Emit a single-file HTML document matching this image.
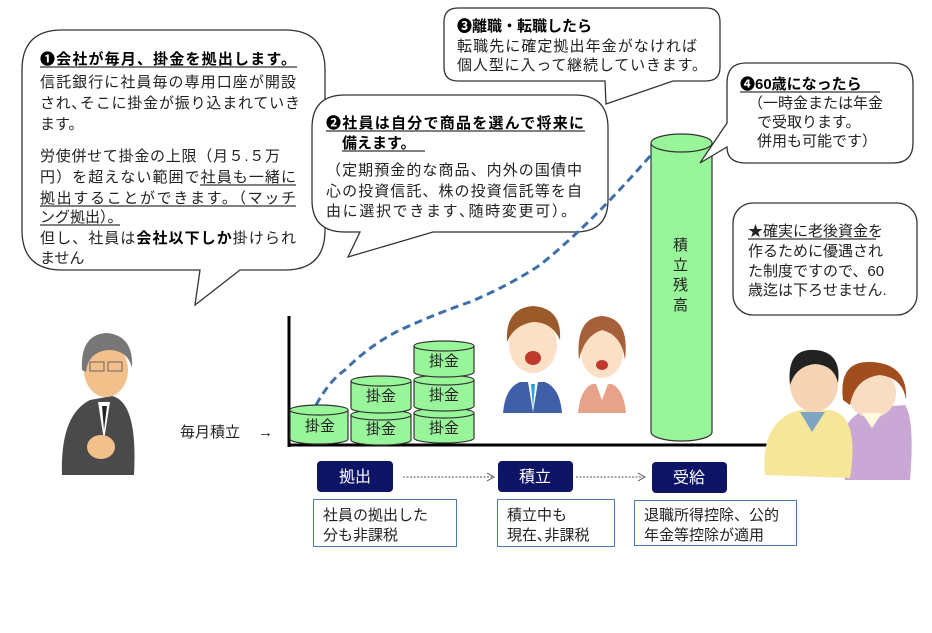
<!DOCTYPE html>
<html><head><meta charset="utf-8">
<style>
html,body{margin:0;padding:0;background:#fff;}
svg{display:block;}
text{font-family:"Liberation Sans","Noto Sans CJK JP",sans-serif;font-size:15px;fill:#222;}
.b{font-weight:bold;fill:#000;}
</style></head><body>
<svg width="932" height="633" viewBox="0 0 932 633" xmlns="http://www.w3.org/2000/svg">
<!-- Bubble 1 -->
<path d="M62,30 H285 Q325,30 325,70 V230 Q325,270 285,270 H240 L195,305 L200,270 H62 Q22,270 22,230 V70 Q22,30 62,30 Z" fill="#fff" stroke="#333" stroke-width="1.3"/>
<text x="40" y="64" class="b" textLength="256">❶会社が毎月、掛金を拠出します。</text>
<line x1="40" y1="67" x2="297" y2="67" stroke="#000"/>
<text x="40" y="87" textLength="256">信託銀行に社員毎の専用口座が開設</text>
<text x="40" y="108" textLength="260">され､そこに掛金が振り込まれていき</text>
<text x="40" y="129">ます。</text>
<text x="40" y="161" textLength="240">労使併せて掛金の上限（月５.５万</text>
<text x="40" y="182" textLength="256">円）を超えない範囲で社員も一緒に</text>
<line x1="200" y1="185" x2="296" y2="185" stroke="#000"/>
<text x="40" y="203" textLength="256">拠出することができます。（マッチ</text>
<line x1="40" y1="206" x2="296" y2="206" stroke="#000"/>
<text x="40" y="222">ング拠出）。</text>
<line x1="40" y1="225" x2="120" y2="225" stroke="#000"/>
<text x="40" y="243" textLength="256">但し、社員は<tspan class="b">会社以下しか</tspan>掛けられ</text>
<text x="40" y="263">ません</text>

<!-- Bubble 2 -->
<path d="M345,95 H575 Q608,95 608,128 V200 Q608,232 575,232 H433 L348,257 L360,232 H345 Q312,232 312,200 V128 Q312,95 345,95 Z" fill="#fff" stroke="#333" stroke-width="1.3"/>
<text x="326" y="128" class="b" textLength="258">❷社員は自分で商品を選んで将来に</text>
<line x1="326" y1="131" x2="585" y2="131" stroke="#000"/>
<text x="342" y="148" class="b">備えます。</text>
<line x1="342" y1="151" x2="425" y2="151" stroke="#000"/>
<text x="326" y="175" textLength="256">（定期預金的な商品、内外の国債中</text>
<text x="326" y="196" textLength="256">心の投資信託、株の投資信託等を自</text>
<text x="326" y="216" textLength="250">由に選択できます､随時変更可）。</text>

<!-- Bubble 3 -->
<path d="M458,8 H706 Q720,8 720,22 V67 Q720,81 706,81 H673 L606,104 L605,81 H458 Q444,81 444,67 V22 Q444,8 458,8 Z" fill="#fff" stroke="#333" stroke-width="1.3"/>
<text x="457" y="31" class="b">❸離職・転職したら</text>
<text x="457" y="51" textLength="240">転職先に確定拠出年金がなければ</text>
<text x="457" y="70" textLength="250">個人型に入って継続していきます。</text>

<!-- Box 5 -->
<rect x="733" y="203" width="184" height="112" rx="20" fill="#fff" stroke="#333" stroke-width="1.3"/>
<text x="748" y="236">★確実に老後資金を</text>
<line x1="748" y1="239" x2="876" y2="239" stroke="#000"/>
<text x="748" y="256">作るために優遇され</text>
<text x="748" y="276">た制度ですので、60</text>
<text x="748" y="295">歳迄は下ろせません.</text>

<!-- dashed growth line -->
<path d="M316,405 Q330,380 345,370 Q370,345 400,330 Q440,312 470,302 Q510,285 540,265 Q590,225 651,155" fill="none" stroke="#3f6fa8" stroke-width="3" stroke-dasharray="8,5"/>

<!-- axes -->
<line x1="289" y1="316" x2="289" y2="447" stroke="#000" stroke-width="3"/>
<line x1="289" y1="445" x2="820" y2="445" stroke="#000" stroke-width="3"/>
<text x="180" y="437">毎月積立</text>
<text x="258" y="437">→</text>

<!-- cylinders -->
<g fill="#99f59a" stroke="#333" stroke-width="1.2">
<path d="M290,410 V439 A29,5 0 0 0 348,439 V410"/><ellipse cx="319" cy="410" rx="29" ry="5"/>
<path d="M351,415 V440 A30,5 0 0 0 411,440 V415"/><ellipse cx="381" cy="415" rx="30" ry="5"/>
<path d="M351,381 V408 A30,5 0 0 0 411,408 V381"/><ellipse cx="381" cy="381" rx="30" ry="5"/>
<path d="M414,413 V438 A30,5 0 0 0 474,438 V413"/><ellipse cx="444" cy="413" rx="30" ry="5"/>
<path d="M414,380 V406 A30,5 0 0 0 474,406 V380"/><ellipse cx="444" cy="380" rx="30" ry="5"/>
<path d="M414,346 V372 A30,5 0 0 0 474,372 V346"/><ellipse cx="444" cy="346" rx="30" ry="5"/>
<path d="M651,143 V432 A30.5,9 0 0 0 712,432 V143"/><ellipse cx="681.5" cy="143" rx="30.5" ry="9"/>
</g>
<g>
<text x="305" y="431">掛金</text>
<text x="366" y="434">掛金</text>
<text x="366" y="401">掛金</text>
<text x="429" y="433">掛金</text>
<text x="429" y="400">掛金</text>
<text x="429" y="366">掛金</text>
<text x="673" y="250">積</text>
<text x="673" y="270">立</text>
<text x="673" y="290">残</text>
<text x="673" y="310">高</text>
</g>

<!-- Bubble 4 (drawn over cylinder) -->
<path d="M746,63 H893 Q913,63 913,83 V143 Q913,163 893,163 H746 Q727,163 727,147 L700,163 L727,123 V83 Q727,63 746,63 Z" fill="#fff" stroke="#333" stroke-width="1.3"/>
<text x="740" y="89" class="b">❹60歳になったら</text>
<line x1="740" y1="92" x2="880" y2="92" stroke="#000"/>
<text x="748" y="108">（一時金または年金</text>
<text x="757" y="127">で受取ります。</text>
<text x="757" y="146">併用も可能です）</text>

<!-- stage labels -->
<rect x="317" y="461" width="76" height="31" rx="4" fill="#0d1466"/>
<rect x="498" y="461" width="75" height="31" rx="4" fill="#0d1466"/>
<rect x="652" y="462" width="75" height="31" rx="4" fill="#0d1466"/>
<text x="339" y="482" style="fill:#fff;font-size:16px">拠出</text>
<text x="519" y="482" style="fill:#fff;font-size:16px">積立</text>
<text x="673" y="483" style="fill:#fff;font-size:16px">受給</text>
<g stroke="#555" stroke-dasharray="2,1.5" fill="none">
<line x1="403" y1="477" x2="492" y2="477"/>
<line x1="576" y1="477" x2="643" y2="477"/>
</g>
<path d="M487,473 L494,477 L487,481" fill="none" stroke="#555"/>
<path d="M638,473 L645,477 L638,481" fill="none" stroke="#555"/>
<g fill="#fff" stroke="#4a78b0">
<rect x="313.5" y="499.5" width="143" height="47"/>
<rect x="497.5" y="499.5" width="117" height="47"/>
<rect x="634.5" y="500.5" width="162" height="45"/>
</g>
<text x="323" y="520">社員の拠出した</text>
<text x="323" y="540">分も非課税</text>
<text x="507" y="520">積立中も</text>
<text x="507" y="540">現在､非課税</text>
<text x="644" y="520">退職所得控除、公的</text>
<text x="644" y="540">年金等控除が適用</text>

<!-- old man left -->
<g>
<path d="M62,475 Q60,415 90,400 L112,396 Q138,402 134,475 Z" fill="#4a4a4a"/>
<path d="M98,402 L104,440 L110,402 Z" fill="#fff"/>
<path d="M102,406 L104,430 L107,406 Z" fill="#222"/>
<ellipse cx="106" cy="370" rx="22" ry="27" fill="#f2c08a"/>
<path d="M82,370 Q80,335 106,333 Q134,335 132,368 Q128,350 108,350 Q88,352 86,372 Z" fill="#777"/>
<rect x="90" y="362" width="14" height="9" fill="none" stroke="#666"/>
<rect x="108" y="362" width="14" height="9" fill="none" stroke="#666"/>
<ellipse cx="101" cy="447" rx="14" ry="12" fill="#f2c08a"/>
</g>

<!-- young couple -->
<g>
<path d="M503,413 Q505,388 520,382 L545,382 Q560,388 562,413 Z" fill="#3f5fa8"/>
<path d="M528,382 L533,412 L538,382 Z" fill="#fff"/>
<path d="M531,384 L533,408 L535,384Z" fill="#2aa0d8"/>
<ellipse cx="533" cy="345" rx="24" ry="28" fill="#fbe0c5"/>
<path d="M507,342 Q505,308 533,306 Q562,308 560,340 Q552,322 533,322 Q514,325 507,342 Z" fill="#9a5a2a"/>
<ellipse cx="533" cy="358" rx="8" ry="7" fill="#c0392b"/>
<path d="M578,413 Q580,390 592,384 L612,384 Q624,390 626,413 Z" fill="#e6a38a"/>
<path d="M596,384 L602,400 L608,384Z" fill="#fff"/>
<ellipse cx="602" cy="353" rx="21" ry="25" fill="#fbe0c5"/>
<path d="M579,360 Q575,318 602,316 Q630,318 625,360 Q622,335 602,330 Q584,336 579,360 Z" fill="#a6603a"/>
<ellipse cx="602" cy="365" rx="6" ry="5" fill="#c0392b"/>
</g>

<!-- elderly couple -->
<g>
<path d="M845,480 Q830,420 870,408 L905,405 Q915,420 910,480 Z" fill="#c9a8d6"/>
<path d="M765,475 Q760,420 800,410 L830,410 Q860,415 850,478 Z" fill="#f6e69a"/>
<path d="M800,412 L812,432 L825,412 Z" fill="#7ea6c4"/>
<ellipse cx="814" cy="384" rx="24" ry="28" fill="#f6d3b4"/>
<path d="M790,385 Q786,348 815,350 Q842,352 838,383 Q834,365 815,364 Q796,366 790,385 Z" fill="#222"/>
<ellipse cx="872" cy="393" rx="24" ry="25" fill="#f8dcc4"/>
<path d="M843,400 Q838,360 872,362 Q908,364 906,400 Q903,378 880,375 Q855,378 850,405 Z" fill="#a24d1e"/>
<path d="M862,413 L872,428 L882,413Z" fill="#fffbe0"/>
</g>
</svg>
</body></html>
